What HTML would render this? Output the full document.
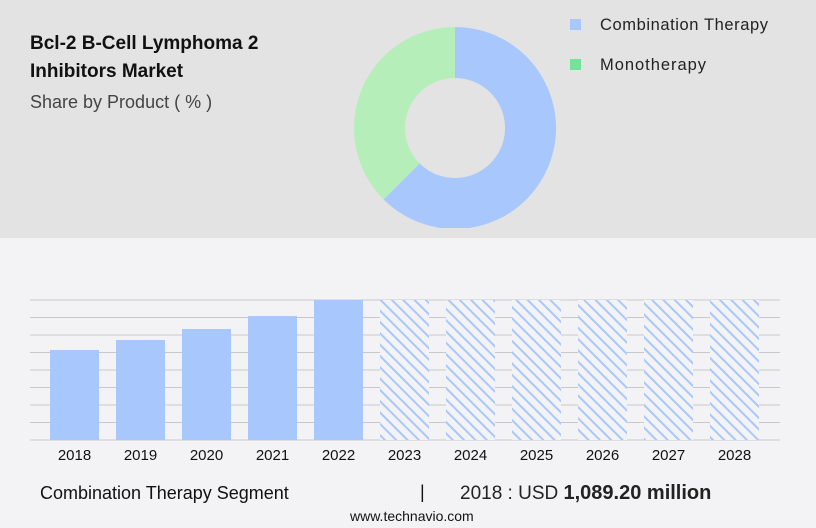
<!DOCTYPE html>
<html><head><meta charset="utf-8">
<style>
body{margin:0;width:816px;height:528px;overflow:hidden;background:#f3f3f5;font-family:"Liberation Sans",sans-serif;position:relative}
.top{position:absolute;left:0;top:0;width:816px;height:238px;background:#e3e3e3}
.t{position:absolute;color:#111;white-space:nowrap}
</style></head><body>
<div class="top"></div>
<div class="t" style="left:30px;top:30px;font-size:19px;font-weight:bold;line-height:28px">Bcl-2 B-Cell Lymphoma 2<br>Inhibitors Market</div>
<div class="t" style="left:30px;top:92px;font-size:18px;color:#444">Share by Product ( % )</div>
<svg width="816" height="528" style="position:absolute;left:0;top:0">
<g id="donut"></g>
<g>
<rect x="570" y="19" width="11" height="11" fill="#a8c8fd"/>
<text x="600" y="30" font-size="16.5" fill="#222" textLength="168">Combination Therapy</text>
<rect x="570" y="59" width="11" height="11" fill="#74e39a"/>
<text x="600" y="70" font-size="16.5" fill="#222" textLength="106">Monotherapy</text>
</g>
<defs><pattern id="hatch" width="8" height="8" patternUnits="userSpaceOnUse" patternTransform="rotate(-45)"><rect width="8" height="8" fill="#f3f3f5"/><rect width="2" height="8" fill="#a8c8fd"/></pattern>
<clipPath id="topclip"><rect x="0" y="0" width="816" height="228"/></clipPath></defs>
<g id="grid"></g><g id="bars"></g>
</svg>
<div class="t" style="left:40px;top:483px;font-size:18px">Combination Therapy Segment</div>
<div class="t" style="left:420px;top:482px;font-size:18px">|</div>
<div class="t" style="left:460px;top:482px;font-size:19px;color:#222">2018 : USD <b style="font-size:20px">1,089.20 million</b></div>
<div class="t" style="left:350px;top:508px;font-size:14px">www.technavio.com</div>
<script>
const slices=["Combination Therapy","Monotherapy"];
const shares=[62.5,37.5];
const sliceColors=["#a8c8fd","#b6eeba"];
const years=["2018","2019","2020","2021","2022","2023","2024","2025","2026","2027","2028"];
const values=[1089.2,1210,1343,1500,1694,1694,1694,1694,1694,1694,1694];
const forecast=[false,false,false,false,false,true,true,true,true,true,true];
const NS="http://www.w3.org/2000/svg";
function mk(t,a,p){const e=document.createElementNS(NS,t);for(const k in a)e.setAttribute(k,a[k]);p.appendChild(e);return e;}
const dg=document.getElementById('donut');dg.setAttribute('clip-path','url(#topclip)');
const cx=455,cy=128,R=101,r=50;let acc=0;const tot=shares.reduce((a,b)=>a+b,0);
shares.forEach((s,i)=>{const a0=acc/tot*2*Math.PI,a1=(acc+s)/tot*2*Math.PI;acc+=s;
const P=(rad,a)=>[cx+rad*Math.sin(a),cy-rad*Math.cos(a)];const lg=(a1-a0)>Math.PI?1:0;
const [x0,y0]=P(R,a0),[x1,y1]=P(R,a1),[x2,y2]=P(r,a1),[x3,y3]=P(r,a0);
const p=mk('path',{d:`M${x0},${y0}A${R},${R} 0 ${lg} 1 ${x1},${y1}L${x2},${y2}A${r},${r} 0 ${lg} 0 ${x3},${y3}Z`,fill:sliceColors[i]},dg);

});
const y0=440,y1=300,yMax=1694;const ys=v=>y0-(v/yMax)*(y0-y1);
const xs=i=>50+i*66;const bw=49;
const gg=document.getElementById('grid');
for(let k=0;k<=8;k++){const y=y0-k*(y0-y1)/8;const l=mk('line',{x1:30,x2:780,y1:y,y2:y,stroke:'#c8c8c8','stroke-width':1},gg);

}
const bg=document.getElementById('bars');
years.forEach((yr,i)=>{const b=mk('rect',{x:xs(i),y:ys(values[i]),width:bw,height:y0-ys(values[i]),fill:forecast[i]?'url(#hatch)':'#a8c8fd'},bg);


const t=mk('text',{x:xs(i)+bw/2,y:460,'text-anchor':'middle','font-size':15,fill:'#111'},bg);t.textContent=yr;

});
</script>
</body></html>
